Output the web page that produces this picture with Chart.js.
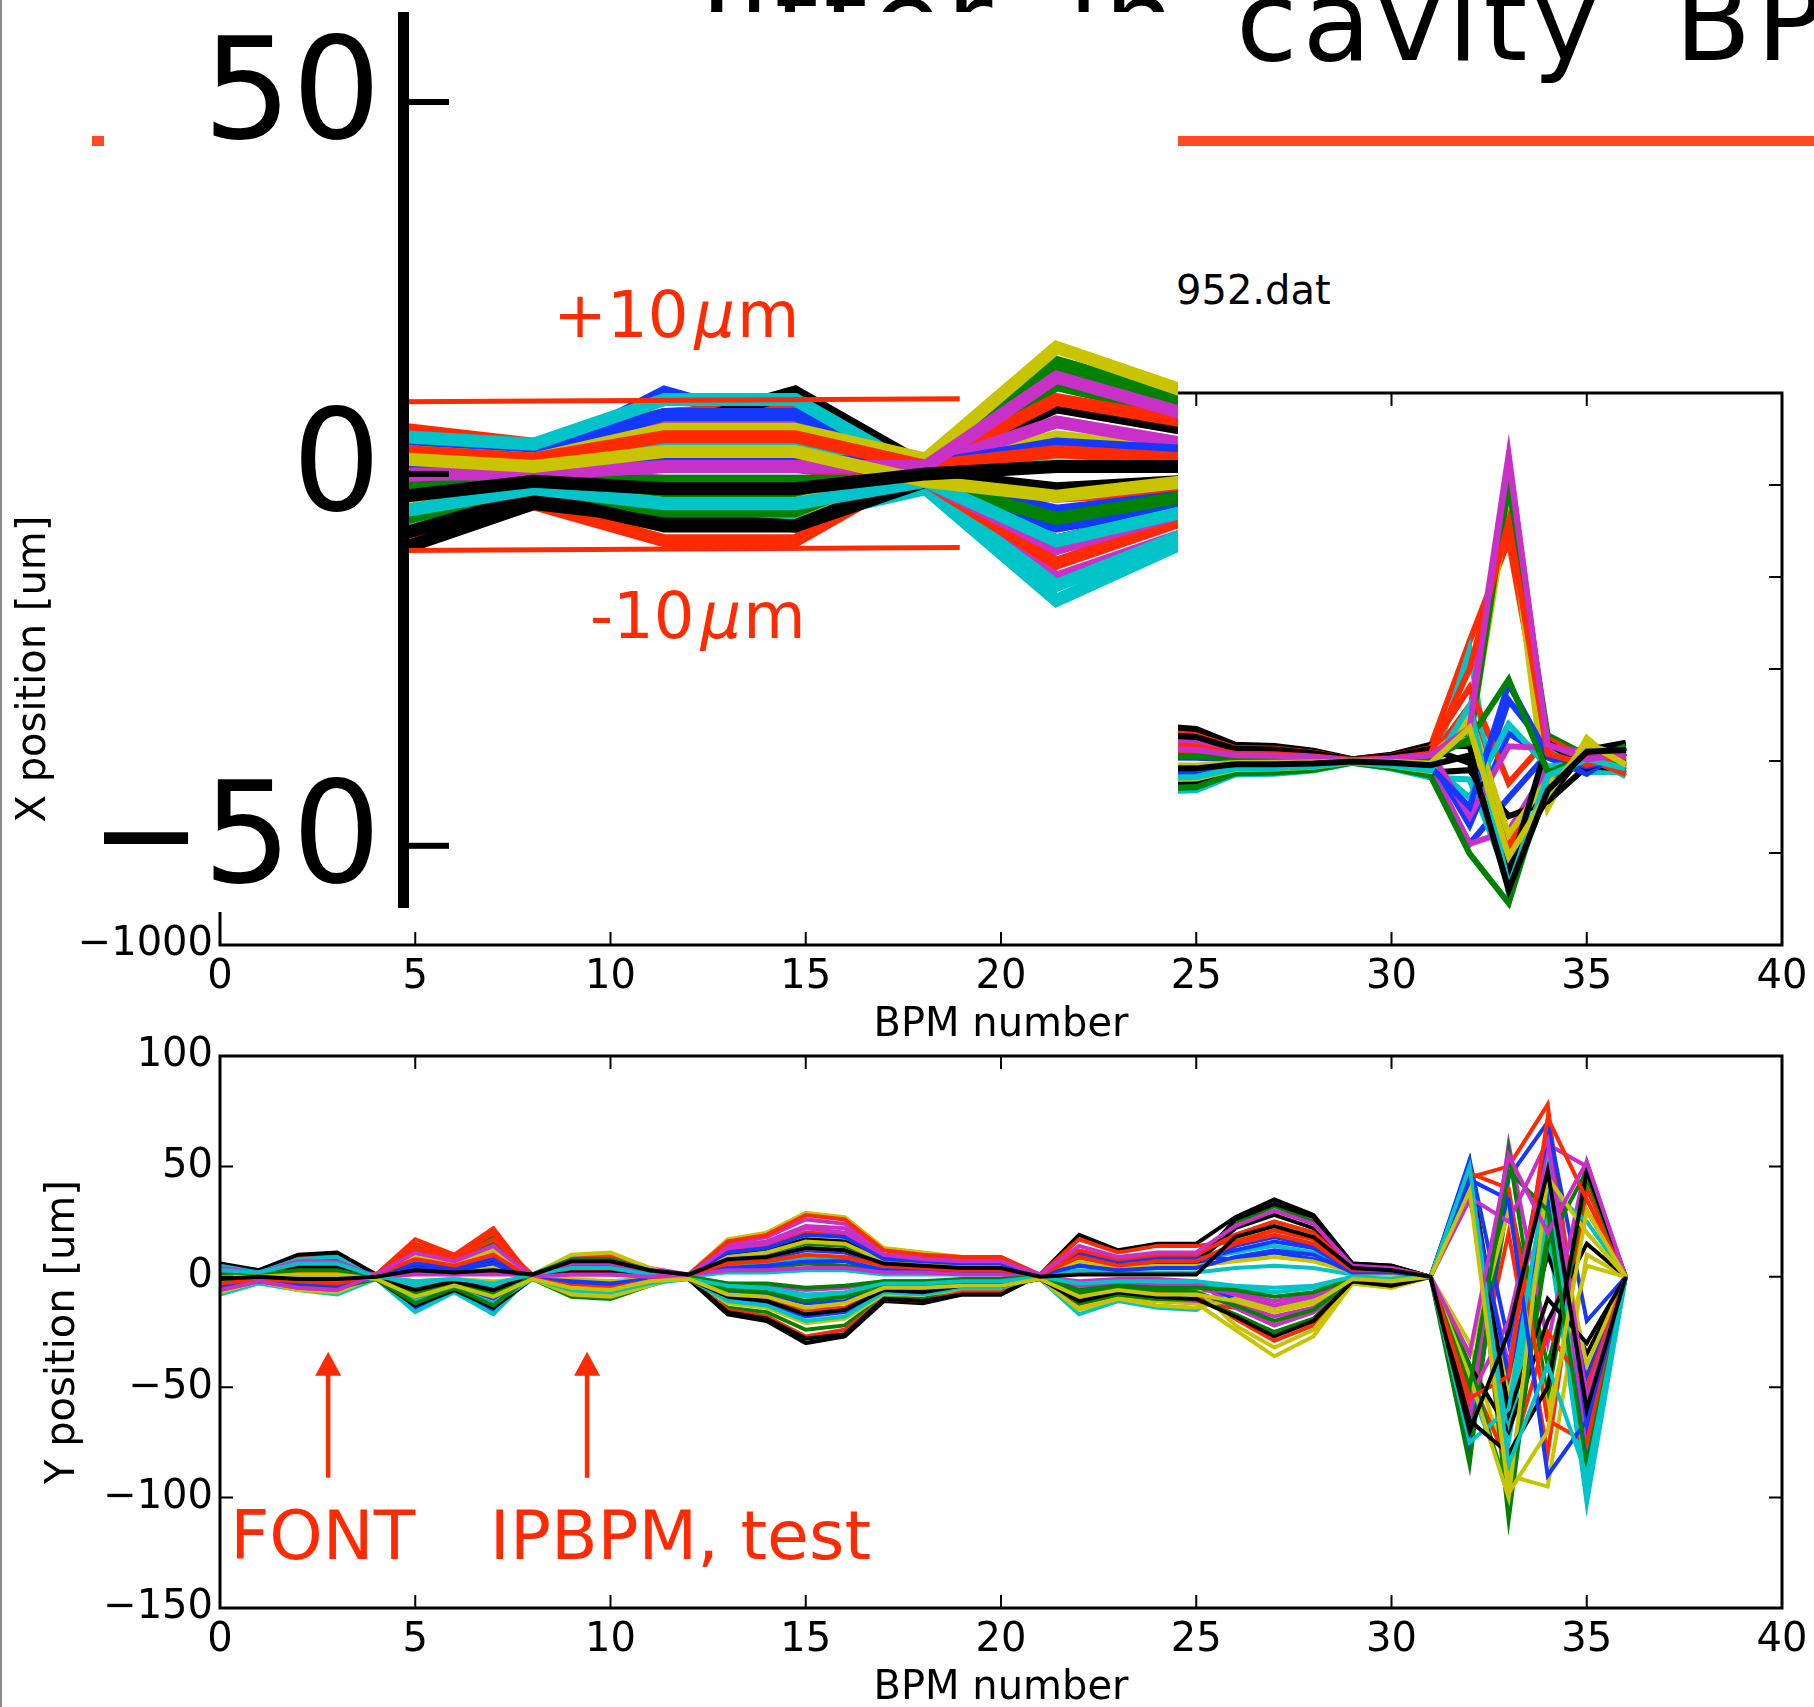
<!DOCTYPE html>
<html>
<head>
<meta charset="utf-8">
<script src="https://cdn.jsdelivr.net/npm/chart.js@4.4.1/dist/chart.umd.min.js"></script>
<style>
  html, body { margin: 0; padding: 0; background: #fff; }
  body { position: relative; width: 1814px; height: 1707px; overflow: hidden; font-family: 'DejaVu Sans', sans-serif; }
  canvas, .abs { position: absolute; }
  #edge { left: 0; top: 0; width: 2px; height: 1707px; background: #8a8a8a; z-index: 1; }
  .title { top: -35px; font-size: 112px; line-height: 112px; white-space: nowrap; letter-spacing: 5px; word-spacing: 30px; color: #000; z-index: 1; }
  #titleA { right: 634px; }
  #titleB { left: 1236px; }
  #underline { left: 92px; top: 136px; width: 1722px; height: 10px; background: #ff4a26; z-index: 1; }
  #runName { left: 1176px; top: 270px; font-size: 40px; line-height: 40px; color: #000; z-index: 1; }
  #cTop { left: 0; top: 350px; z-index: 2; }
  #cBot { left: 0; top: 1000px; z-index: 2; }
  #cInset { left: 104px; top: 12px; background: #fff; z-index: 5; }
</style>
</head>
<body>
<div id="edge" class="abs"></div>
<div id="titleA" class="abs title">Jitter in</div>
<div id="titleB" class="abs title">cavity BPMs</div>
<div id="underline" class="abs"></div>
<div id="runName" class="abs">952.dat</div>
<canvas id="cTop" width="1814" height="705"></canvas>
<canvas id="cBot" width="1814" height="718"></canvas>
<canvas id="cInset" width="1074" height="900"></canvas>
<script>
// BPM index (x categories)
const bpm = [0,1,2,3,4,5,6,7,8,9,10,11,12,13,14,15,16,17,18,19,20,21,22,23,24,25,26,27,28,29,30,31,32,33,34,35,36];

// tick labels
const bpmTicks = [0, 5, 10, 15, 20, 25, 30, 35, 40];
const xPosTicks = [-1000, -500, 0, 500, 1000, 1500, 2000];
const yPosTicks = [-150, -100, -50, 0, 50, 100];
const insetTicks = [-50, 0, 50];

// X position [um] per pulse (BPM 7-23 sit under the zoom inset: rough estimates)
const xRun00 = [3,2,11,6,-1,-10,-5,9,15,6,18,24,12,30,36,18,48,60,24,72,84,36,90,102,57,52,26,25,17,3,10,26,-300,330,60,-20,20];
const xRun01 = [-3,-1,-3,-3,2,15,10,-8,-13,-5,-15,-20,-10,-25,-30,-15,-40,-50,-20,-60,-70,-30,-75,-85,133,122,62,57,39,7,24,62,150,1560,100,10,60];
const xRun02 = [6,4,8,9,-1,-3,-2,12,20,8,24,32,16,40,48,24,64,80,32,96,112,48,120,136,171,157,79,74,50,9,31,79,650,1200,20,-40,-30];
const xRun03 = [-7,-3,-6,-6,-2,-17,-9,-11,-18,-7,-21,-28,-14,-35,-42,-21,-56,-70,-28,-84,-98,-42,-105,-119,-132,-127,-58,-55,-42,-8,-33,-72,604,-718,-150,30,-84];
const xRun04 = [1,1,2,2,-1,-14,-8,6,10,4,12,16,8,20,24,12,32,40,16,48,56,24,60,68,95,87,44,41,28,5,17,44,250,1664,60,-20,40];
const xRun05 = [-5,-2,-5,-5,1,5,3,-14,-23,-9,-27,-36,-18,-45,-54,-27,-72,-90,-36,-108,-126,-54,-135,-153,-66,-64,-29,-28,-21,-4,-16,50,120,1400,-256,125,-50];
const xRun06 = [5,3,6,11,1,9,6,15,25,10,30,40,20,50,60,30,80,100,40,120,140,60,150,170,190,174,88,82,56,10,34,88,80,-560,-200,60,99];
const xRun07 = [2,1,3,3,-1,-7,-4,-5,-8,-3,-9,-12,-6,-15,-18,-9,-24,-30,-12,-36,-42,-18,-45,-51,-83,-80,-37,-35,-26,-5,-21,-45,-450,-200,40,-50,-10];
const xRun08 = [-2,-1,-2,-2,1,12,8,3,5,2,6,8,4,10,12,6,16,20,8,24,28,12,30,34,114,104,53,49,34,6,20,53,100,1500,140,30,50];
const xRun09 = [-9,-4,-9,-9,1,10,7,-9,-15,-6,-18,-24,-12,-30,-36,-18,-48,-60,-24,-72,-84,-36,-90,-102,38,35,18,16,11,2,7,18,300,-470,-60,40,-20];
const xRun10 = [2,2,4,4,-2,-15,-8,8,13,5,15,20,10,25,30,15,40,50,20,60,70,30,75,85,-165,-159,-73,-69,-52,-10,-41,-90,-100,-650,90,-60,-60];
const xRun11 = [4,2,7,7,1,7,4,-12,-20,-8,-24,-32,-16,-40,-48,-24,-64,-80,-32,-96,-112,-48,-120,-136,-50,-48,-22,-21,-16,-3,-12,-27,-450,-380,-40,20,10];
const xRun12 = [-4,-2,-4,-4,0,2,1,5,8,3,9,12,6,15,18,9,24,30,12,36,42,18,45,51,76,70,35,33,22,4,14,35,200,-620,-120,80,30];
const xRun13 = [-10,-4,-6,-7,-1,-9,-5,-15,-25,-10,-30,-40,-20,-50,-60,-30,-80,-100,-40,-120,-140,-60,-150,-170,-116,-111,-51,-48,-36,-7,-29,-63,-50,-300,-220,-30,-40];
const xRun14 = [4,3,8,8,-1,-5,-3,11,18,7,21,28,14,35,42,21,56,70,28,84,98,42,105,119,19,17,9,8,6,1,3,9,-350,150,20,-70,70];
const xRun15 = [-6,-2,-5,-5,2,14,9,2,3,1,3,4,2,5,6,3,8,10,4,12,14,6,15,17,-149,-143,-66,-62,-47,-9,-37,-81,-503,-772,-90,0,80];
const xRun16 = [1,0,1,1,-1,-12,-6,-6,-10,-4,-12,-16,-8,-20,-24,-12,-32,-40,-16,-48,-56,-24,-60,-68,152,139,70,66,45,8,27,70,400,-120,120,15,-70];
const xRun17 = [5,4,10,10,0,3,2,-3,-5,-2,-6,-8,-4,-10,-12,-6,-16,-20,-8,-24,-28,-12,-30,-34,-33,-32,-15,-14,-10,-2,-8,-18,-200,200,-30,-10,0];
const xRun18 = [-1,0,-1,-1,-1,-10,-5,14,23,9,27,36,18,45,54,27,72,90,36,108,126,54,135,153,105,96,48,45,31,6,19,48,-300,80,70,50,-30];
const xRun19 = [3,2,6,6,2,17,11,-2,-3,-1,-3,-4,-2,-5,-6,-3,-8,-10,-4,-12,-14,-6,-15,-17,-99,-95,-44,-41,-31,-6,-25,-54,250,-400,-100,90,20];
const xRun20 = [-8,-3,-7,-7,0,-2,-1,8,13,5,15,20,10,25,30,15,40,50,20,60,70,30,75,85,143,131,66,62,42,8,26,66,-10,-610,100,-40,45];
const xRun21 = [1,1,2,2,1,4,3,5,9,4,11,14,7,18,21,11,28,35,14,42,49,21,53,60,-58,-56,-26,-24,-18,-4,-14,-32,-250,420,30,-30,15];
const xRun22 = [-2,-1,-1,-1,-1,-6,-3,-4,-6,-3,-8,-10,-5,-13,-15,-8,-20,-25,-10,-30,-35,-15,-38,-43,29,26,13,12,8,2,5,13,120,443,-60,20,-10];
const xRun23 = [3,2,5,5,1,3,2,-7,-11,-5,-14,-18,-9,-23,-27,-14,-36,-45,-18,-54,-63,-27,-68,-77,86,78,40,37,25,5,15,40,500,1300,40,-20,25];
const xRun24 = [-5,-2,-4,-4,-1,-9,-5,8,14,6,17,22,11,28,33,17,44,55,22,66,77,33,83,94,-91,-87,-40,-38,-29,-6,-23,-50,300,-690,-80,10,-40];
const xRun25 = [0,0,1,1,1,13,8,2,4,2,5,6,3,8,9,5,12,15,6,18,21,9,23,26,67,61,31,29,20,4,12,31,180,1640,90,10,35];
const xRun26 = [2,1,3,3,-1,-3,-1,-10,-16,-7,-20,-26,-13,-33,-39,-20,-52,-65,-26,-78,-91,-39,-98,-111,-25,-24,-11,-10,-8,-2,-6,-14,180,-520,-180,100,-20];
const xRun27 = [-3,-1,-2,-2,0,1,1,13,21,9,26,34,17,43,51,26,68,85,34,102,119,51,128,145,-41,-40,-18,-17,-13,-3,-10,-23,30,-700,-160,50,60];

// Y position [um] per pulse
const yRun00 = [4,2,6,7,-1,-14,-6,-15,1,5,6,2,1,7,8,12,11,5,4,4,4,0,6,4,5,5,14,18,14,3,3,0,40,-60,20,-45,0];
const yRun01 = [-4,-1,-3,-4,1,12,7,15,-1,-5,-6,-2,-1,-14,-16,-24,-22,-9,-10,-6,-6,1,11,7,9,9,24,32,25,5,5,0,-70,35,-40,30,0];
const yRun02 = [5,3,9,10,1,17,10,22,-1,-3,-3,-1,1,12,14,20,19,9,8,6,6,-1,-14,-9,-11,-12,-14,-22,-16,-2,-3,0,45,50,78,-60,0];
const yRun03 = [-8,-3,-6,-8,-1,-16,-7,-17,1,2,2,1,-1,-5,-6,-9,-8,-3,-4,-2,-2,-1,-17,-11,-14,-15,-5,-7,-5,-1,-1,0,-50,-95,20,-100,0];
const yRun04 = [2,1,3,3,1,10,6,13,1,9,10,4,1,15,18,26,24,12,10,8,8,-1,-7,-4,-6,-6,-7,-11,-8,-1,-2,0,35,-40,60,50,0];
const yRun05 = [-5,-2,-4,-5,-1,-5,-2,-5,-1,-7,-8,-3,1,17,20,29,27,13,11,9,9,-1,-14,-9,-11,-12,-24,-36,-27,-3,-5,0,-30,-90,-95,10,0];
const yRun06 = [6,3,10,11,1,5,3,7,1,6,7,2,-1,-17,-20,-30,-27,-11,-12,-8,-8,1,19,12,15,15,27,35,28,6,5,0,50,-55,10,-35,0];
const yRun07 = [1,1,2,2,-1,-10,-4,-10,1,4,4,2,-1,-10,-12,-18,-16,-7,-7,-5,-5,0,-3,-2,-3,-3,-10,-14,-11,-1,-2,0,-80,45,70,-20,0];
const yRun08 = [-2,-1,-1,-2,1,14,8,18,-1,-9,-10,-4,1,9,10,15,14,7,6,5,5,1,11,7,9,9,19,25,20,4,4,0,52,-110,25,-60,0];
const yRun09 = [3,2,5,6,-1,-8,-4,-9,1,8,9,3,-1,-9,-10,-15,-14,-6,-6,-4,-4,-1,-9,-6,-7,-8,-19,-29,-22,-2,-4,0,-60,20,-80,40,0];
const yRun10 = [-3,-1,-2,-3,0,7,4,9,0,-2,-2,-1,0,5,6,9,8,4,3,3,3,1,10,6,8,8,11,14,11,2,2,0,40,-75,30,-103,0];
const yRun11 = [2,1,4,4,0,-3,-1,-3,0,3,3,1,1,14,16,23,22,10,9,7,7,-1,-12,-8,-10,-11,-12,-18,-14,-2,-3,0,-65,60,-30,52,0];
const yRun12 = [-7,-2,-6,-7,0,3,2,4,1,10,11,4,-1,-12,-14,-21,-19,-8,-8,-6,-6,0,-5,-3,-4,-5,-22,-32,-24,-3,-5,0,38,-50,45,-40,0];
const yRun13 = [4,2,7,8,-1,-13,-6,-14,-1,-5,-5,-2,1,10,12,17,16,8,7,5,5,1,8,5,6,6,22,28,22,5,4,0,-40,-70,-20,15,0];
const yRun14 = [-5,-2,-4,-5,1,9,5,11,1,6,7,2,-1,-7,-8,-12,-11,-4,-5,-3,-3,1,11,7,9,9,8,11,8,2,2,0,53,-30,65,-70,0];
const yRun15 = [1,0,1,1,0,-6,-3,-7,0,-4,-4,-2,0,3,4,6,5,3,2,2,2,0,-12,-8,-10,-10,-17,-25,-19,-2,-4,0,-85,57,-55,45,0];
const yRun16 = [-6,-2,-5,-6,1,15,9,20,0,1,1,0,-1,-15,-18,-27,-24,-10,-11,-7,-7,1,17,11,14,14,16,21,17,4,3,0,-45,-85,-25,-50,0];
const yRun17 = [5,2,8,9,-1,-11,-5,-12,-1,-6,-7,-3,0,2,2,3,3,1,1,1,1,0,-3,-2,-3,-3,-5,-7,-5,-1,-1,0,45,-65,40,25,0];
const yRun18 = [-1,0,-1,-1,0,2,1,2,0,7,8,3,0,-3,-4,-6,-5,-2,-2,-2,-2,0,-2,-1,-1,-2,-14,-22,-16,-2,-3,0,-55,-20,55,-80,0];
const yRun19 = [2,1,4,4,0,-2,-1,-2,-1,-8,-9,-4,1,8,9,13,12,6,5,4,4,-1,-15,-10,-13,-14,-10,-14,-11,-1,-2,0,-35,30,-60,5,0];
const yRun20 = [-3,-1,-2,-3,0,5,3,7,1,4,4,2,-1,-16,-19,-28,-26,-10,-11,-8,-8,1,8,5,6,6,26,33,27,6,5,0,48,-62,-10,-30,0];
const yRun21 = [3,1,5,5,1,6,4,8,-1,-3,-4,-1,1,4,5,7,7,3,3,2,2,1,10,7,8,8,12,16,13,3,2,0,42,-45,35,-85,0];
const yRun22 = [-5,-2,-4,-5,-1,-7,-3,-8,1,5,5,2,-1,-6,-7,-11,-9,-4,-4,-3,-3,-1,-8,-5,-6,-7,-13,-20,-15,-2,-3,0,-40,-100,15,48,0];
const yRun23 = [1,0,2,2,1,13,8,17,1,3,3,1,1,16,19,28,26,12,10,9,9,1,12,8,10,10,19,25,20,4,4,0,47,40,-65,-75,0];
const yRun24 = [-2,-1,-2,-2,-1,-4,-2,-4,-1,-6,-7,-3,-1,-11,-13,-20,-18,-7,-8,-5,-5,0,3,2,2,2,4,5,4,1,1,0,-75,-60,50,-95,0];
const yRun25 = [4,2,7,7,0,1,1,1,1,6,6,2,1,3,3,4,4,2,2,1,1,-1,-4,-3,-4,-4,-8,-13,-9,-1,-2,0,36,25,62,-55,0];
const yRun26 = [-1,0,-1,-1,1,9,6,12,-1,-1,-2,-1,1,9,11,16,15,7,6,5,5,1,7,4,5,5,7,9,7,2,1,0,-45,-100,45,20,0];
const yRun27 = [2,1,4,4,-1,-6,-2,-6,1,2,2,1,-1,-9,-11,-17,-15,-6,-7,-4,-4,-1,-11,-7,-9,-10,-18,-27,-20,-2,-4,0,-65,-80,-50,48,0];
const yRun28 = [-4,-1,-3,-4,0,4,3,6,-1,-2,-3,-1,1,11,13,19,18,8,7,6,6,1,5,3,4,4,9,12,10,2,2,0,44,35,-90,-65,0];
const yRun29 = [2,1,3,3,-1,-12,-5,-13,1,8,8,3,0,-3,-3,-5,-4,-2,-2,-1,-1,0,-6,-4,-5,-5,-6,-9,-7,-1,-1,0,-50,48,30,-85,0];
const yRun30 = [-3,-1,-2,-3,1,8,5,10,-1,-4,-5,-2,1,6,7,10,9,5,4,3,3,1,9,5,7,7,15,19,15,3,3,0,-55,-45,72,35,0];
const yRun31 = [3,2,6,6,0,-2,-1,-3,1,4,4,1,-1,-4,-5,-8,-7,-3,-3,-2,-2,0,-3,-2,-2,-2,-4,-5,-4,0,-1,0,50,-85,-40,-90,0];
const yRun32 = [-6,-2,-5,-6,1,11,7,14,0,1,1,0,1,13,15,22,20,10,8,7,7,1,14,9,11,11,23,30,24,5,4,0,-35,55,20,52,0];
const yRun33 = [0,0,1,1,-1,-9,-4,-9,-1,-5,-6,-2,-1,-8,-9,-14,-12,-5,-5,-4,-4,-1,-9,-6,-8,-8,-11,-16,-12,-1,-2,0,39,-98,-70,30,0];
const yRun34 = [-1,0,-1,-1,0,3,2,3,1,7,7,3,1,8,9,13,12,6,5,4,4,0,1,1,1,1,18,23,18,4,3,0,-70,-25,48,-60,0];

const xRuns = [xRun00, xRun01, xRun02, xRun03, xRun04, xRun05, xRun06, xRun07, xRun08, xRun09,
               xRun10, xRun11, xRun12, xRun13, xRun14, xRun15, xRun16, xRun17, xRun18, xRun19,
               xRun20, xRun21, xRun22, xRun23, xRun24, xRun25, xRun26, xRun27];
const yRuns = [yRun00, yRun01, yRun02, yRun03, yRun04, yRun05, yRun06, yRun07, yRun08, yRun09,
               yRun10, yRun11, yRun12, yRun13, yRun14, yRun15, yRun16, yRun17, yRun18, yRun19,
               yRun20, yRun21, yRun22, yRun23, yRun24, yRun25, yRun26, yRun27, yRun28, yRun29,
               yRun30, yRun31, yRun32, yRun33, yRun34];

// +-10 um guide lines in the zoom inset
const bandBpm = [0, 4.26];
const bandHigh = [9.7, 10.1];
const bandLow = [-10.3, -9.9];

// annotations
const plusLabelAt = [1.15, 18.4];
const minusLabelAt = [1.43, -22.0];
const arrowBpm = [2.77, 9.4];
const arrowTail = -91;
const arrowTip = -34;
const noteText = ['FONT', 'IPBPM, test'];
const noteBpm = [0.26, 6.91];
const noteY = -127.8;

const palette = ['#1438ff', '#008200', '#ff2a00', '#00c4c8', '#c830c8', '#c8c400', '#000000'];
const red = '#ff2a00';
const fam = "'DejaVu Sans', sans-serif";
const minus = v => String(v).replace('-', '\u2212');

function pin(w, h) {
  return s => {
    if (w != null) s.width = w;
    if (h != null) s.height = h;
    s.paddingTop = 0; s.paddingBottom = 0; s.paddingLeft = 0; s.paddingRight = 0;
  };
}
function tickList(list) {
  return s => { s.ticks = list.map(v => ({ value: v })); };
}
// later runs drawn on top, like matplotlib
function runSets(runs, width) {
  return runs.map((r, i) => ({
    data: r, borderColor: palette[i % 7], borderWidth: width,
    pointRadius: 0, fill: false, tension: 0, order: -i
  }));
}

// matplotlib-like box with inward ticks
const frame = {
  id: 'frame',
  afterDatasetsDraw(chart) {
    const { ctx, chartArea: a, scales: { x, y } } = chart;
    ctx.save();
    ctx.strokeStyle = '#000';
    ctx.lineWidth = 2;
    ctx.beginPath();
    x.ticks.forEach(t => {
      const p = x.getPixelForValue(t.value);
      ctx.moveTo(p, a.bottom); ctx.lineTo(p, a.bottom - 13);
      ctx.moveTo(p, a.top); ctx.lineTo(p, a.top + 13);
    });
    y.ticks.forEach(t => {
      const p = y.getPixelForValue(t.value);
      ctx.moveTo(a.left, p); ctx.lineTo(a.left + 13, p);
      ctx.moveTo(a.right, p); ctx.lineTo(a.right - 13, p);
    });
    ctx.stroke();
    ctx.lineWidth = 3;
    ctx.strokeRect(a.left, a.top, a.right - a.left, a.bottom - a.top);
    ctx.restore();
  }
};

function mainOptions(yMin, yMax, yTicks, yTitle, yTitlePad, padTop) {
  const font = { family: fam, size: 40 };
  return {
    responsive: false, animation: false, devicePixelRatio: 1,
    layout: { padding: { left: 0, right: 32, top: padTop, bottom: 0 } },
    plugins: { legend: { display: false }, tooltip: { enabled: false } },
    scales: {
      x: {
        type: 'linear', min: 0, max: 40,
        afterBuildTicks: tickList(bpmTicks), afterFit: pin(null, 110),
        grid: { display: false, drawTicks: false }, border: { display: false },
        ticks: { font, color: '#000', padding: 9, autoSkip: false, maxRotation: 0, callback: v => minus(v) },
        title: { display: true, text: 'BPM number', font, color: '#000', padding: { top: 0, bottom: 5 } }
      },
      y: {
        type: 'linear', min: yMin, max: yMax,
        afterBuildTicks: tickList(yTicks), afterFit: pin(220, null),
        grid: { display: false, drawTicks: false }, border: { display: false },
        ticks: { font, color: '#000', padding: 7, autoSkip: false, callback: v => minus(v) },
        title: { display: true, text: yTitle, font, color: '#000', padding: { top: yTitlePad, bottom: 0 } }
      }
    }
  };
}

// bottom chart annotations: arrows and labels
const bottomNotes = {
  id: 'bottomNotes',
  afterDatasetsDraw(chart) {
    const { ctx, scales: { x, y } } = chart;
    ctx.save();
    ctx.strokeStyle = red; ctx.fillStyle = red; ctx.lineWidth = 4.5;
    arrowBpm.forEach(b => {
      const px = x.getPixelForValue(b);
      const tail = y.getPixelForValue(arrowTail);
      const tip = y.getPixelForValue(arrowTip);
      ctx.beginPath(); ctx.moveTo(px, tail); ctx.lineTo(px, tip + 18); ctx.stroke();
      ctx.beginPath(); ctx.moveTo(px, tip); ctx.lineTo(px - 13, tip + 24); ctx.lineTo(px + 13, tip + 24);
      ctx.closePath(); ctx.fill();
    });
    ctx.font = '68px ' + fam;
    ctx.textBaseline = 'alphabetic';
    noteText.forEach((t, i) => ctx.fillText(t, x.getPixelForValue(noteBpm[i]), y.getPixelForValue(noteY)));
    ctx.restore();
  }
};

// zoom inset: thick left axis, inward ticks, +-10um labels
function muLabel(ctx, prefix, x, y) {
  ctx.font = '64px ' + fam;
  ctx.fillText(prefix, x, y);
  let w = ctx.measureText(prefix).width + 6;
  ctx.font = 'italic 64px ' + fam;
  ctx.fillText('\u03bc', x + w, y);
  w += ctx.measureText('\u03bc').width + 2;
  ctx.font = '64px ' + fam;
  ctx.fillText('m', x + w, y);
}
const insetAxis = {
  id: 'insetAxis',
  afterDatasetsDraw(chart) {
    const { ctx, chartArea: a, scales: { x, y } } = chart;
    ctx.save();
    ctx.fillStyle = '#000';
    ctx.fillRect(a.left - 5, a.top, 11, a.bottom - 4 - a.top);
    y.ticks.forEach(t => {
      const p = y.getPixelForValue(t.value);
      ctx.fillRect(a.left, p - 3, 46, 6);
    });
    ctx.fillStyle = red;
    ctx.textBaseline = 'alphabetic';
    muLabel(ctx, '+10', x.getPixelForValue(plusLabelAt[0]), y.getPixelForValue(plusLabelAt[1]));
    muLabel(ctx, '-10', x.getPixelForValue(minusLabelAt[0]), y.getPixelForValue(minusLabelAt[1]));
    ctx.restore();
  }
};

new Chart(document.getElementById('cTop'), {
  type: 'line',
  data: { labels: bpm, datasets: runSets(xRuns, 6) },
  options: mainOptions(-1000, 2000, xPosTicks, 'X position [um]', 11, 43),
  plugins: [frame]
});

new Chart(document.getElementById('cBot'), {
  type: 'line',
  data: { labels: bpm, datasets: runSets(yRuns, 4) },
  options: mainOptions(-150, 100, yPosTicks, 'Y position [um]', 40, 56),
  plugins: [frame, bottomNotes]
});

const bandSets = [bandHigh, bandLow].map(b => ({
  data: bandBpm.map((v, i) => ({ x: v, y: b[i] })),
  borderColor: red, borderWidth: 5, pointRadius: 0, fill: false, order: -100
}));

new Chart(document.getElementById('cInset'), {
  type: 'line',
  data: { labels: bpm, datasets: runSets(xRuns, 13).concat(bandSets) },
  options: {
    responsive: false, animation: false, devicePixelRatio: 1,
    layout: { padding: 0 },
    plugins: { legend: { display: false }, tooltip: { enabled: false } },
    scales: {
      x: { type: 'linear', display: false, min: 0, max: 5.93 },
      y: {
        type: 'linear', min: -58.9, max: 62.1,
        afterBuildTicks: tickList(insetTicks), afterFit: pin(299, null),
        grid: { display: false, drawTicks: false }, border: { display: false },
        ticks: { font: { family: fam, size: 140 }, color: '#000', padding: 22, autoSkip: false, callback: v => minus(v) }
      }
    }
  },
  plugins: [insetAxis]
});
</script>
</body>
</html>
